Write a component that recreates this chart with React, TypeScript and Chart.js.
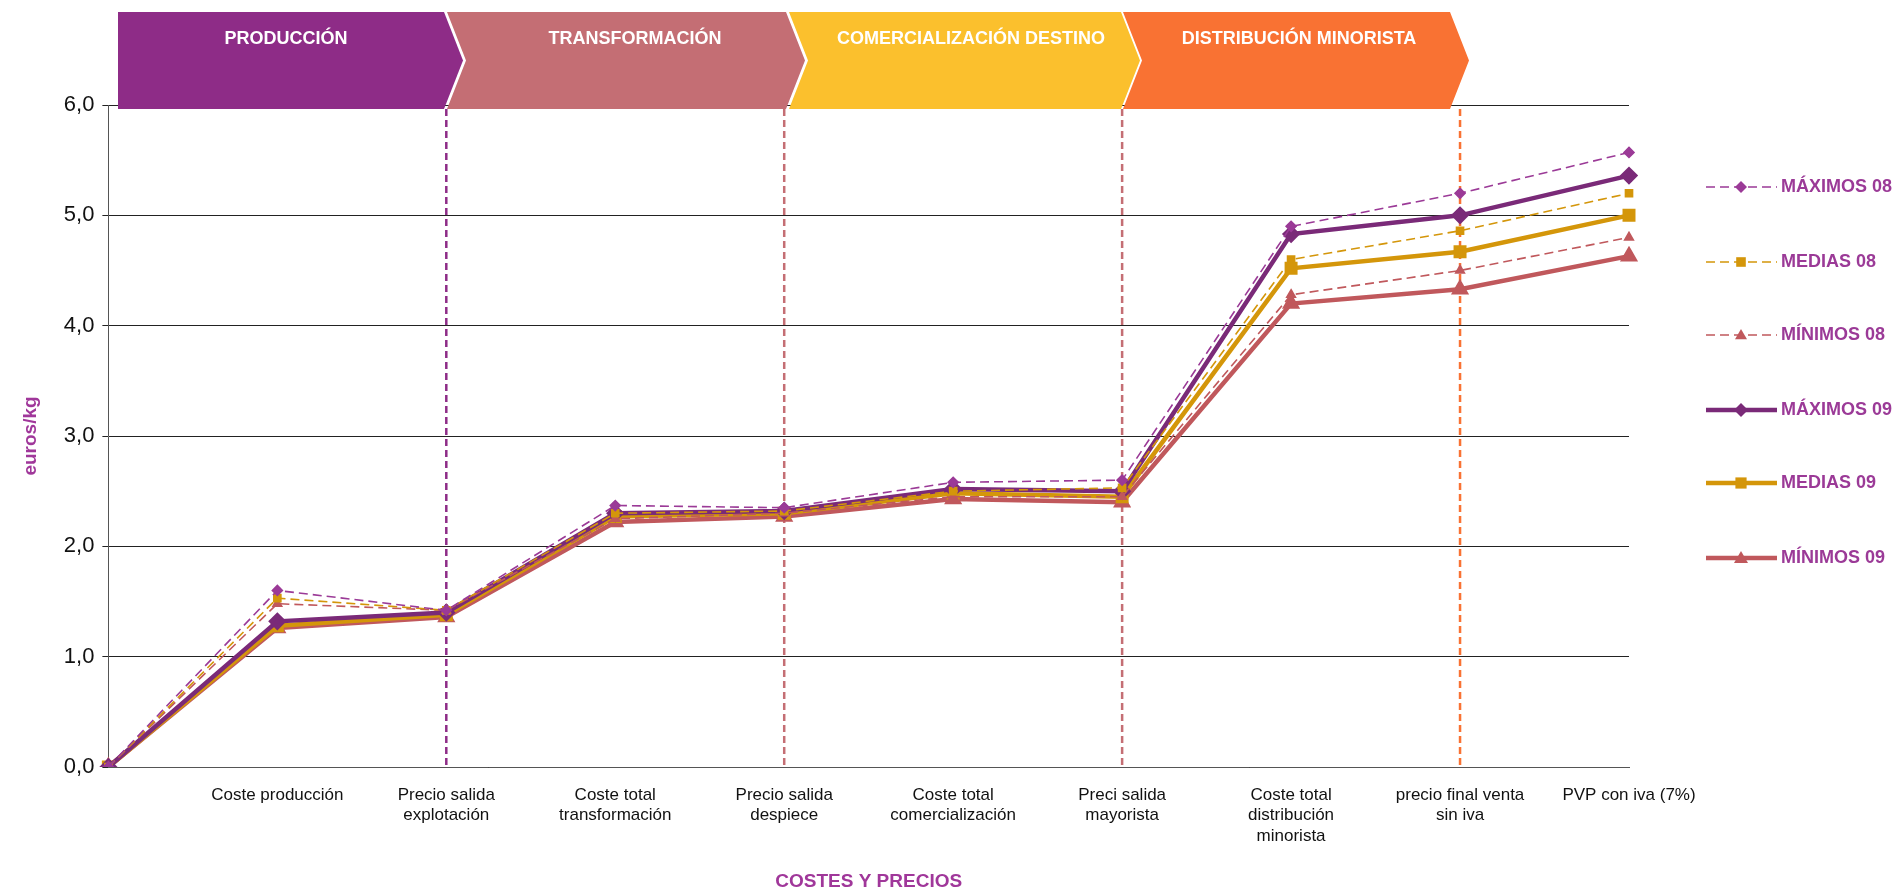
import React, { useRef, useEffect } from 'react';
import { Chart, registerables } from 'chart.js';

Chart.register(...registerables);

const categories: (string | string[])[] = [
  '',
  'Coste producción',
  ['Precio salida', 'explotación'],
  ['Coste total', 'transformación'],
  ['Precio salida', 'despiece'],
  ['Coste total', 'comercialización'],
  ['Preci salida', 'mayorista'],
  ['Coste total', 'distribución', 'minorista'],
  ['precio final venta', 'sin iva'],
  'PVP con iva (7%)',
];

const maximos08 = [0, 1.6, 1.42, 2.37, 2.35, 2.58, 2.6, 4.9, 5.2, 5.57];
const medias08 = [0, 1.53, 1.42, 2.3, 2.32, 2.5, 2.53, 4.6, 4.86, 5.2];
const minimos08 = [0, 1.48, 1.42, 2.25, 2.3, 2.45, 2.45, 4.28, 4.5, 4.8];
const maximos09 = [0, 1.32, 1.4, 2.3, 2.32, 2.52, 2.5, 4.83, 5.0, 5.36];
const medias09 = [0, 1.28, 1.38, 2.27, 2.3, 2.48, 2.45, 4.52, 4.67, 5.0];
const minimos09 = [0, 1.26, 1.36, 2.22, 2.27, 2.43, 2.4, 4.2, 4.33, 4.63];

const stages = ['PRODUCCIÓN', 'TRANSFORMACIÓN', 'COMERCIALIZACIÓN DESTINO', 'DISTRIBUCIÓN MINORISTA'];
const stageColors = ['#8E2C87', '#C46E74', '#FBC02D', '#F97233'];
const stageEnds = [2, 4, 6, 8];
const dividerColors = ['#8E2C87', '#C46E74', '#C46E74', '#F97233'];

const PURPLE = '#7A2A78';
const PURPLE_L = '#9B3A97';
const GOLD = '#D4960A';
const ROSE = '#C0585C';

const stagePlugin = {
  id: 'stages',
  beforeDatasetsDraw(chart: any) {
    const { ctx, scales, chartArea } = chart;
    ctx.save();
    stageEnds.forEach((idx, i) => {
      const x = scales.x.getPixelForValue(idx);
      ctx.strokeStyle = dividerColors[i];
      ctx.lineWidth = 2.5;
      ctx.setLineDash([7, 4]);
      ctx.beginPath();
      ctx.moveTo(x, 109);
      ctx.lineTo(x, chartArea.bottom);
      ctx.stroke();
    });
    ctx.restore();
  },
  afterDraw(chart: any) {
    const { ctx } = chart;
    const boxes = [
      [118, 444],
      [447, 786],
      [789, 1121],
      [1123, 1450],
    ];
    const top = 12;
    const bot = 109;
    const mid = (top + bot) / 2;
    ctx.save();
    boxes.forEach(([l, r], i) => {
      ctx.fillStyle = stageColors[i];
      ctx.beginPath();
      ctx.moveTo(l, top);
      ctx.lineTo(r, top);
      ctx.lineTo(r + 19, mid);
      ctx.lineTo(r, bot);
      ctx.lineTo(l, bot);
      if (i > 0) ctx.lineTo(l + 19, mid);
      ctx.closePath();
      ctx.fill();
      ctx.fillStyle = '#FFFFFF';
      ctx.font = 'bold 18px "Liberation Sans", Arial, sans-serif';
      ctx.textAlign = 'center';
      ctx.textBaseline = 'middle';
      const centers = [286, 635, 971, 1299];
      ctx.fillText(stages[i], centers[i], 39);
    });
    ctx.restore();

    // legend
    const items = chart.data.datasets;
    const ys = [187, 262, 335, 410, 483, 558];
    ctx.save();
    items.forEach((ds: any, i: number) => {
      const y = ys[i];
      ctx.strokeStyle = ds.borderColor;
      ctx.lineWidth = ds.borderWidth;
      ctx.setLineDash(ds.borderDash || []);
      ctx.beginPath();
      ctx.moveTo(1706, y);
      ctx.lineTo(1777, y);
      ctx.stroke();
      ctx.setLineDash([]);
      ctx.fillStyle = ds.pointBackgroundColor;
      const r = ds.pointRadius + 1;
      ctx.beginPath();
      if (ds.pointStyle === 'rectRot') {
        ctx.moveTo(1741, y - r);
        ctx.lineTo(1741 + r, y);
        ctx.lineTo(1741, y + r);
        ctx.lineTo(1741 - r, y);
      } else if (ds.pointStyle === 'rect') {
        ctx.rect(1741 - r * 0.8, y - r * 0.8, r * 1.6, r * 1.6);
      } else {
        ctx.moveTo(1741, y - r);
        ctx.lineTo(1741 + r, y + r * 0.7);
        ctx.lineTo(1741 - r, y + r * 0.7);
      }
      ctx.closePath();
      ctx.fill();
      ctx.fillStyle = PURPLE_L;
      ctx.font = 'bold 18px "Liberation Sans", Arial, sans-serif';
      ctx.textAlign = 'left';
      ctx.textBaseline = 'middle';
      ctx.fillText(ds.label, 1781, y);
    });
    ctx.restore();
  },
};

const mk = (label: string, data: number[], color: string, style: string, thick: boolean) => ({
  label,
  data,
  borderColor: color,
  backgroundColor: color,
  pointBackgroundColor: color,
  pointBorderColor: color,
  borderWidth: thick ? 4.5 : 1.6,
  borderDash: thick ? [] : [9, 5],
  pointStyle: style,
  pointRadius: thick ? 6 : 5,
  tension: 0,
  fill: false,
});

const App: React.FC = () => {
  const chartRef = useRef<HTMLCanvasElement | null>(null);

  useEffect(() => {
    if (!chartRef.current) return;
    const chart = new Chart(chartRef.current, {
      type: 'line',
      data: {
        labels: categories,
        datasets: [
          mk('MÁXIMOS 08', maximos08, PURPLE_L, 'rectRot', false),
          mk('MEDIAS 08', medias08, GOLD, 'rect', false),
          mk('MÍNIMOS 08', minimos08, ROSE, 'triangle', false),
          mk('MÁXIMOS 09', maximos09, PURPLE, 'rectRot', true),
          mk('MEDIAS 09', medias09, GOLD, 'rect', true),
          mk('MÍNIMOS 09', minimos09, ROSE, 'triangle', true),
        ],
      },
      options: {
        animation: false,
        responsive: false,
        layout: { padding: { top: 105, right: 274, left: 19, bottom: 0 } },
        plugins: { legend: { display: false }, tooltip: { enabled: false } },
        scales: {
          x: {
            offset: false,
            grid: { display: false, drawTicks: true, tickLength: 8 },
            border: { color: '#555' },
            ticks: {
              autoSkip: false,
              maxRotation: 0,
              padding: 10,
              color: '#111',
              font: { family: '"Liberation Sans", Arial, sans-serif', size: 17 },
            },
            title: {
              display: true,
              text: 'COSTES Y PRECIOS',
              color: '#A0379A',
              font: { family: '"Liberation Sans", Arial, sans-serif', size: 19, weight: 'bold' },
              padding: { top: 14, bottom: 0 },
            },
          },
          y: {
            min: 0,
            max: 6,
            ticks: {
              stepSize: 1,
              color: '#111',
              padding: 8,
              font: { family: '"Liberation Sans", Arial, sans-serif', size: 22 },
              callback: (v: any) => Number(v).toFixed(1).replace('.', ','),
            },
            grid: { color: '#222', lineWidth: 1, tickLength: 6 },
            border: { color: '#555' },
            title: {
              display: true,
              text: 'euros/kg',
              color: '#A0379A',
              font: { family: '"Liberation Sans", Arial, sans-serif', size: 19, weight: 'bold' },
              padding: { top: 0, bottom: 14 },
            },
          },
        },
      },
      plugins: [stagePlugin],
    });
    return () => chart.destroy();
  }, []);

  return (
    <div style={{ position: 'absolute', left: 0, top: 0, width: 1903, height: 893, background: '#fff' }}>
      <canvas ref={chartRef} width={1903} height={893} style={{ width: 1903, height: 893 }} />
    </div>
  );
};

export default App;
